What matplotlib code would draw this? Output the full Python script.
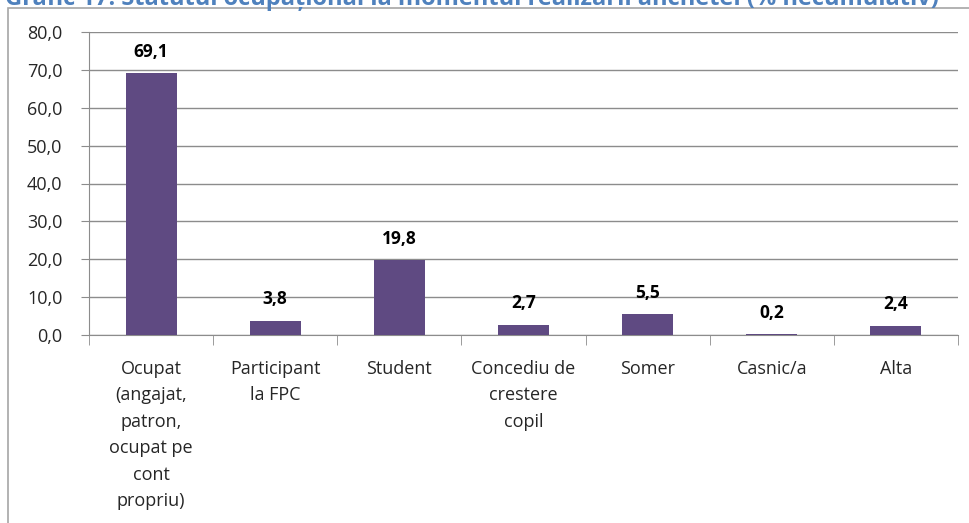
import matplotlib
matplotlib.use("Agg")
import matplotlib.pyplot as plt
from matplotlib.patches import Rectangle
from matplotlib.ticker import FixedLocator

categories = ["Ocupat\n(angajat,\npatron,\nocupat pe\ncont\npropriu)",
              "Participant\nla FPC",
              "Student",
              "Concediu de\ncrestere\ncopil",
              "Somer",
              "Casnic/a",
              "Alta"]
values = [69.1, 3.8, 19.8, 2.7, 5.5, 0.2, 2.4]
yticks = [0, 10, 20, 30, 40, 50, 60, 70, 80]
title = "Grafic 17. Statutul ocupațional la momentul realizării anchetei (% necumulativ)"

plt.rcParams['font.family'] = ['Open Sans', 'DejaVu Sans']

W, H = 970, 523
fig = plt.figure(figsize=(W / 100, H / 100), dpi=100)

# outer chart border
fig.patches.append(Rectangle((8 / W, -0.1), 1.2, 1 - 8 / H + 0.1, transform=fig.transFigure,
                             fill=False, edgecolor="#A6A6A6", linewidth=1.2))

# title (clipped at the top edge as in the reference)
t = fig.text(5 / W, 1 - 5 / H, title, ha="left", va="baseline", color="#4F81BD",
             fontsize=15, fontweight="bold")
fig.canvas.draw()
bb = t.get_window_extent()
t.set_fontsize(15 * 935 / bb.width)

ax = fig.add_axes([89 / W, 1 - 335 / H, (958 - 89) / W, (335 - 32) / H])
x = list(range(len(values)))
ax.bar(x, values, width=0.41, color="#5F4A82", zorder=3)
for xi, v in zip(x, values):
    ax.annotate(f"{v:.1f}".replace(".", ","), (xi, v), xytext=(0, 9), textcoords="offset points",
                ha="center", va="bottom", fontsize=12.5, fontweight="bold", color="black")

ax.set_xlim(-0.5, len(values) - 0.5)
ax.set_ylim(0, 80)
ax.set_yticks(yticks)
ax.set_yticklabels([f"{v:.1f}".replace(".", ",") for v in yticks], fontsize=13, color="#262626")
ax.yaxis.grid(True, color="#8C8C8C", linewidth=1.0, zorder=0)
ax.set_xticks(x)
ax.set_xticklabels(categories, fontsize=13, color="#262626", linespacing=1.6)
ax.tick_params(axis="x", which="major", length=0, pad=18)
ax.xaxis.set_minor_locator(FixedLocator([i - 0.5 for i in range(len(values) + 1)]))
ax.tick_params(axis="x", which="minor", length=7, color="#8C8C8C", direction="out")
ax.tick_params(axis="y", length=6, color="#8C8C8C", direction="out", pad=13)
for s in ["top", "right"]:
    ax.spines[s].set_visible(False)
for s in ["left", "bottom"]:
    ax.spines[s].set_color("#8C8C8C")
ax.set_facecolor("white")

fig.savefig("out.png", dpi=100)
